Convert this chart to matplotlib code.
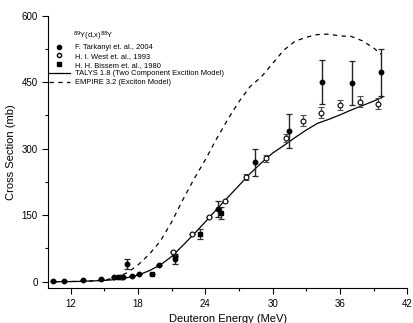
import numpy as np
import matplotlib.pyplot as plt
from matplotlib.ticker import MultipleLocator

plt.rcParams['font.family'] = ['Liberation Sans', 'DejaVu Sans']

# --- data ---
# F. Tarkanyi et al., 2004 (filled circles)
tark_e = [10.45, 11.4, 13.1, 14.7, 15.9, 16.2, 16.7, 17.0, 17.5, 18.1, 19.9, 21.3, 25.1, 28.4, 31.5, 34.4, 37.1, 39.7]
tark_v = [1, 1, 4, 7, 10, 10, 10, 40, 13, 17, 37, 51, 164, 269, 339, 450, 448, 472]
tark_err = [0, 0, 0, 0, 0, 0, 0, 12, 0, 0, 0, 11, 19, 31, 38, 50, 50, 53]

# H. I. West et al., 1993 (open circles)
west_e = [16.5, 21.1, 22.8, 24.35, 25.75, 27.6, 29.4, 31.2, 32.7, 34.3, 36.0, 37.8, 39.4]
west_v = [11, 67, 107, 145, 182, 236, 278, 323, 363, 381, 398, 406, 401]
west_err = [0, 0, 0, 0, 0, 6, 8, 9, 12, 12, 12, 12, 12]

# H. H. Bissem et al., 1980 (squares)
biss_e = [19.2, 21.3, 23.5, 25.4]
biss_v = [17, 59, 107, 155]
biss_err = [0, 0, 11, 14]

# TALYS 1.8
talys_e = [10.5, 12, 13, 14, 15, 16, 17, 18, 19, 20, 21, 22, 23, 24, 25, 26, 27, 28, 29, 30, 31, 32, 33, 34, 35, 36, 37, 38, 39, 39.8]
talys_v = [0, 0.5, 1, 2, 3, 5, 9, 15, 25, 38, 57, 82, 108, 135, 163, 190, 217, 244, 268, 290, 307, 325, 342, 357, 366, 376, 387, 397, 407, 416]

# EMPIRE 3.2
emp_e = [10.5, 12, 14, 15, 16, 17, 18, 19, 20, 21, 22, 23, 24, 25, 26, 27, 28, 29, 30, 31, 32, 33, 34, 35, 36, 37, 38, 39, 39.7]
emp_v = [0, 0.5, 2, 4, 9, 20, 38, 62, 92, 135, 185, 232, 275, 322, 366, 406, 440, 462, 492, 522, 542, 551, 557, 558, 554, 553, 543, 527, 512]

fig = plt.figure(figsize=(4.13, 3.23), dpi=100)
ax = fig.add_axes([0.117, 0.107, 0.869, 0.845])

l_talys, = ax.plot(talys_e, talys_v, color='black', lw=0.9)
l_emp, = ax.plot(emp_e, emp_v, color='black', lw=0.9, ls=(0, (3.5, 3.5)))

ax.errorbar(west_e, west_v, yerr=west_err, fmt='o', mfc='white', mec='black', mew=0.8,
            ms=3.5, ecolor='0.3', elinewidth=0.9, capsize=2.5, capthick=0.9, zorder=3)
ax.errorbar(biss_e, biss_v, yerr=biss_err, fmt='s', color='black', ms=3.2,
            ecolor='0.2', elinewidth=0.9, capsize=2.5, capthick=0.9, zorder=4)
ax.errorbar(tark_e, tark_v, yerr=tark_err, fmt='o', color='black', ms=3.2,
            ecolor='0.15', elinewidth=1.0, capsize=2.5, capthick=0.9, zorder=5)

h_t, = ax.plot([], [], 'o', color='black', ms=3)
h_w, = ax.plot([], [], 'o', mfc='white', mec='black', ms=3)
h_b, = ax.plot([], [], 's', color='black', ms=3)
leg = ax.legend([h_t, h_w, h_b, l_talys, l_emp],
                ['F. Tarkanyi et. al., 2004', 'H. I. West et. al., 1993', 'H. H. Bissem et. al., 1980',
                 'TALYS 1.8 (Two Component Excition Model)', 'EMPIRE 3.2 (Exciton Model)'],
                loc='upper left', bbox_to_anchor=(-0.012, 0.915),
                frameon=False, fontsize=5.4, handlelength=2.7,
                handletextpad=0.7, labelspacing=0.2, borderpad=0.2)
ax.text(0.07, 0.925, r'$^{89}$Y(d,x)$^{88}$Y', transform=ax.transAxes, fontsize=5.4,
        va='center', ha='left')

ax.set_xlim(10, 42)
ax.set_ylim(-15, 600)
ax.xaxis.set_major_locator(MultipleLocator(6))
ax.xaxis.set_minor_locator(MultipleLocator(3))
ax.yaxis.set_major_locator(MultipleLocator(150))
ax.yaxis.set_minor_locator(MultipleLocator(75))
ax.set_xticks([12, 18, 24, 30, 36, 42])
ax.tick_params(which='major', direction='out', length=4, width=0.8, labelsize=7)
ax.tick_params(which='minor', direction='out', length=2.5, width=0.8)
for s in ['top', 'right']:
    ax.spines[s].set_visible(False)

ax.set_xlabel('Deuteron Energy (MeV)', fontsize=8, labelpad=4)
ax.set_ylabel('Cross Section (mb)', fontsize=8, labelpad=4)

fig.savefig('out.png', dpi=100)
